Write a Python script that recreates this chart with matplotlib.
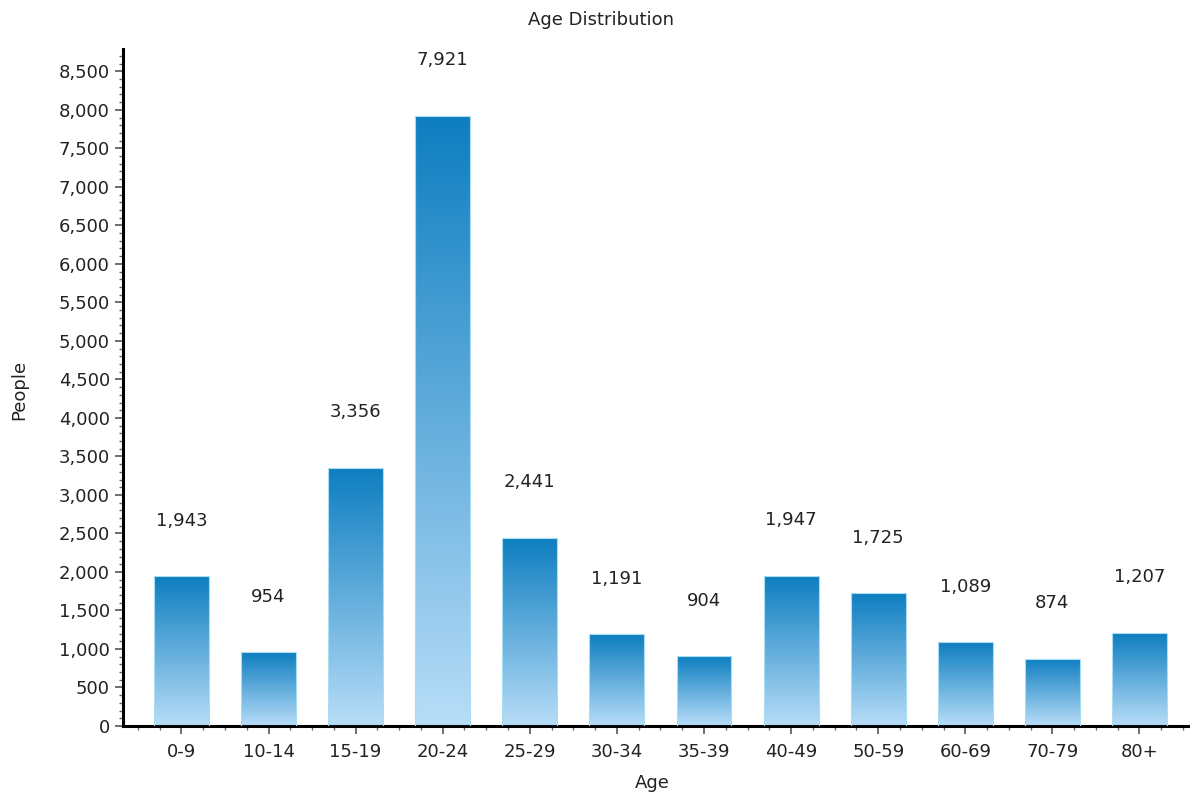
import numpy as np
import matplotlib.pyplot as plt
from matplotlib.colors import LinearSegmentedColormap
from matplotlib.ticker import MultipleLocator, FuncFormatter

ages = ['0-9', '10-14', '15-19', '20-24', '25-29', '30-34', '35-39',
        '40-49', '50-59', '60-69', '70-79', '80+']
people = [1943, 954, 3356, 7921, 2441, 1191, 904, 1947, 1725, 1089, 874, 1207]

top_col = '#0a7cbf'
bottom_col = '#b8ddf8'
cmap = LinearSegmentedColormap.from_list('bar', [bottom_col, top_col])

fig = plt.figure(figsize=(11.90, 7.96), dpi=100)
ax = fig.add_axes([0.1034, 0.088, 0.8966, 0.8504])

x = np.arange(len(ages))
width = 0.63
bars = ax.bar(x, people, width=width, color='none', edgecolor='#a9def0',
              linewidth=0.8, zorder=3)

# gradient fill, dark at the top, light at the bottom of every bar
grad = np.linspace(0, 1, 256).reshape(-1, 1)
for b in bars:
    x0 = b.get_x()
    h = b.get_height()
    im = ax.imshow(grad, cmap=cmap, origin='lower', aspect='auto',
                   interpolation='bilinear',
                   extent=[x0, x0 + b.get_width(), 0, h * 1.02], zorder=2)
    im.set_clip_path(b)

for xi, v in zip(x, people):
    ax.annotate(f'{v:,}', (xi, v), xytext=(0, 40), textcoords='offset points',
                ha='center', va='center', fontsize=13, color='#222222')

ax.set_xlim(-0.67, 11.58)
ax.set_ylim(0, 8790)
ax.set_xticks(x)
ax.set_xticklabels(ages)
ax.xaxis.set_minor_locator(MultipleLocator(0.25))
ax.yaxis.set_major_locator(MultipleLocator(500))
ax.yaxis.set_minor_locator(MultipleLocator(100))
ax.yaxis.set_major_formatter(FuncFormatter(lambda v, p: f'{int(v):,}'))

for s in ['top', 'right']:
    ax.spines[s].set_visible(False)
for s in ['left', 'bottom']:
    ax.spines[s].set_linewidth(2.2)
    ax.spines[s].set_color('black')

ax.tick_params(axis='both', which='major', labelsize=13, length=6,
               width=1.2, colors='#555555', labelcolor='#222222')
ax.tick_params(axis='both', which='minor', length=3, width=1, colors='#666666')
ax.tick_params(axis='x', which='major', pad=6)

fig.text(0.505, 1 - 20 / 796, 'Age Distribution', ha='center', va='center',
         fontsize=13, color='#222222')
ax.set_xlabel('Age', fontsize=13, color='#222222', va='center')
ax.xaxis.set_label_coords(0.496, -0.084)
ax.set_ylabel('People', fontsize=13, color='#222222', va='center')
ax.yaxis.set_label_coords(-0.097, 0.496)

fig.savefig('out.png', dpi=100)
